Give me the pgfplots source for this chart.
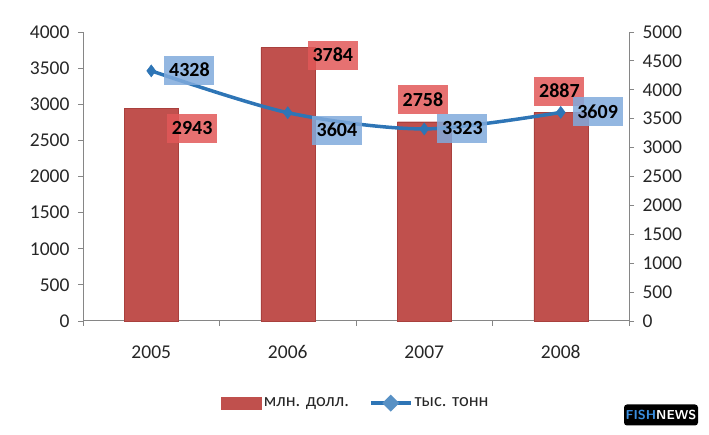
\documentclass[border=0pt]{standalone}
\usepackage{pgfplots}
\pgfplotsset{compat=1.18}
\usepackage{fontspec}
\setmainfont{Carlito}
\definecolor{barred}{HTML}{C0504D}
\definecolor{barbd}{HTML}{A9403D}
\definecolor{lblred}{RGB}{226,88,88}
\definecolor{lineblue}{HTML}{2E75B6}
\definecolor{lblblue}{RGB}{128,170,220}
\definecolor{axgray}{HTML}{868686}
\definecolor{fishblue}{HTML}{3B8FE0}
\begin{document}
\begin{tikzpicture}
\path[use as bounding box] (0,0) rectangle (709pt,435pt);
\begin{axis}[
  at={(83pt,114pt)}, anchor=south west,
  width=546pt, height=289pt, scale only axis,
  xmin=-0.5, xmax=3.5, ymin=0, ymax=4000,
  axis x line*=bottom, axis y line*=left,
  axis line style={axgray, line width=1pt},
  tick align=outside,
  xtick={0,1,2,3}, xticklabels={2005,2006,2007,2008},
  minor xtick={-0.5,0.5,1.5,2.5,3.5},
  major x tick style={draw=none},
  minor tick length=5pt,
  ytick={0,500,...,4000},
  major tick length=5pt,
  tick style={axgray, line width=0.8pt},
  ticklabel style={font=\fontsize{19.5}{21}\selectfont, text=black!85},
  yticklabel style={xshift=-5pt},
  xticklabel style={yshift=-16pt},
  /pgf/number format/assume math mode=true,
  /pgf/number format/1000 sep={},
  clip=false,
]
\addplot[ybar, bar width=54pt, fill=barred, draw=barbd] coordinates {(0,2943) (1,3784) (2,2758) (3,2887)};
\addplot[draw=none, only marks, mark=none, point meta=explicit symbolic, nodes near coords,
  every node near coord/.append style={anchor=center, fill=lblred, fill opacity=0.85, text opacity=1,
    font=\fontsize{20}{22}\selectfont\bfseries, text=black, minimum width=50pt, minimum height=29pt, inner sep=0pt}]
  coordinates {(0.30,2671)[2943] (1.33,3681)[3784] (1.99,3059)[2758] (2.99,3183)[2887]};
\end{axis}
\begin{axis}[
  at={(83pt,114pt)}, anchor=south west,
  width=546pt, height=289pt, scale only axis,
  xmin=-0.5, xmax=3.5, ymin=0, ymax=5000,
  axis x line=none, axis y line*=right,
  axis line style={axgray, line width=1pt},
  tick align=outside,
  ytick={0,500,...,5000},
  major tick length=5pt,
  tick style={axgray, line width=0.8pt},
  ticklabel style={font=\fontsize{19.5}{21}\selectfont, text=black!85},
  yticklabel style={xshift=5pt},
  /pgf/number format/assume math mode=true,
  /pgf/number format/1000 sep={},
  clip=false,
  legend style={at={(0.5,-0.25)}, anchor=north, draw=none, fill=none,
    legend columns=2, font=\fontsize{18.5}{20}\selectfont, text=black!85,
    nodes={inner xsep=2pt},
    /tikz/every even column/.append style={column sep=18pt}},
]
\addlegendimage{legend image code/.code={\fill[barred] (0pt,-6pt) rectangle (40pt,6pt);}}
\addlegendentry{млн. долл.}
\addplot[lineblue, line width=3.5pt, smooth, tension=0.5, mark=diamond*, mark size=6pt,
  mark options={fill=lineblue, draw=lineblue, line width=0.5pt},
  legend image code/.code={\draw[lineblue, line width=3.5pt] (0pt,0pt) -- (40pt,0pt);
    \fill[lineblue!80] (20pt,-6pt) -- (26pt,0pt) -- (20pt,6pt) -- (14pt,0pt) -- cycle;}]
  coordinates {(0,4328) (1,3604) (2,3323) (3,3609)};
\addlegendentry{тыс. тонн}
\addplot[draw=none, only marks, mark=none, point meta=explicit symbolic, nodes near coords,
  every node near coord/.append style={anchor=center, fill=lblblue, fill opacity=0.85, text opacity=1,
    font=\fontsize{20}{22}\selectfont\bfseries, text=black, minimum width=50pt, minimum height=29pt, inner sep=0pt}]
  coordinates {(0.28,4342)[4328] (1.36,3304)[3604] (2.28,3339)[3323] (3.27,3616)[3609]};
\end{axis}
\node[fill=black, rounded corners=3pt, minimum width=74pt, minimum height=21pt, inner sep=1pt,
  font=\sffamily\bfseries\fontsize{13}{14}\selectfont] at (661pt,20pt)
  {\textcolor{fishblue}{FISH}\textcolor{white}{NEWS}};
\end{tikzpicture}
\end{document}
